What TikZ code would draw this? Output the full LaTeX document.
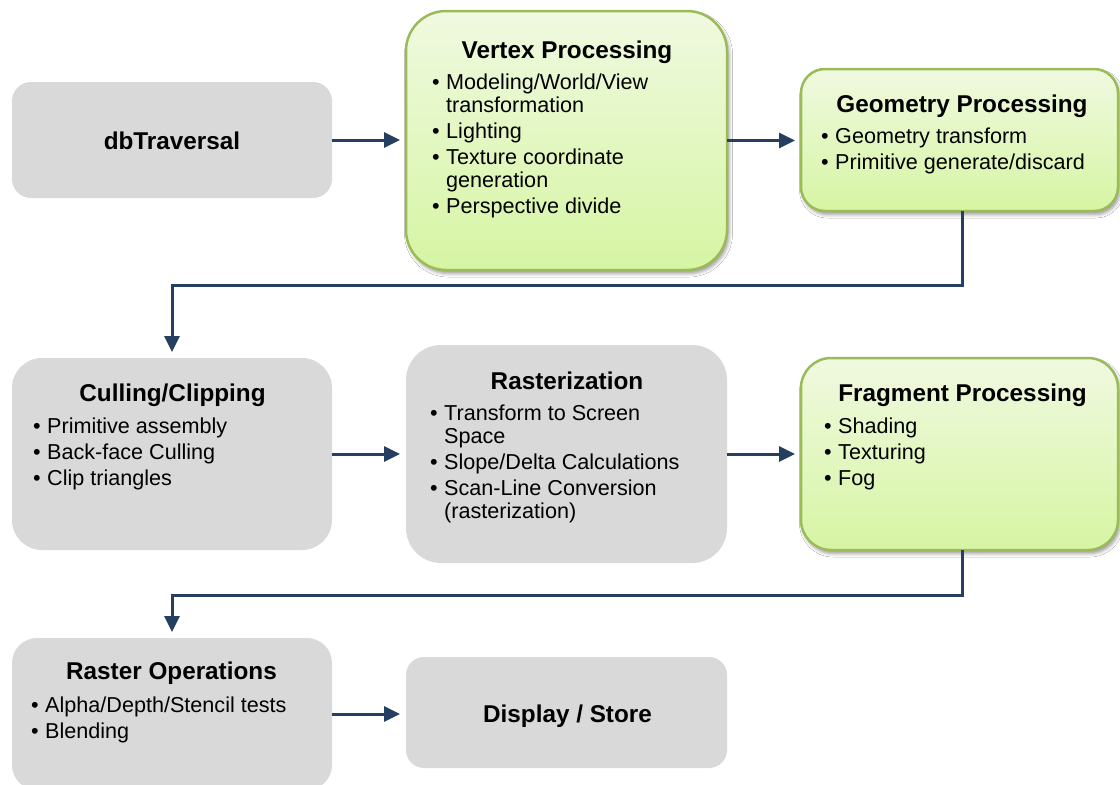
\documentclass[tikz,border=0pt]{standalone}
\usepackage{fontspec}
\setmainfont{Liberation Sans}
\usetikzlibrary{arrows.meta,calc,shadows.blur}

\definecolor{boxgray}{HTML}{D9D9D9}
\definecolor{greentop}{HTML}{F0F9E0}
\definecolor{greenbot}{HTML}{D6F5A3}
\definecolor{greenedge}{HTML}{9BBB59}
\definecolor{flow}{HTML}{243F60}

% bullet and hanging indent for wrapped list lines
\newcommand\itm{\makebox[14pt][l]{•}}
\newcommand\cont{\hspace*{14pt}}

\tikzset{
  stage/.style={rectangle, inner sep=0pt, outer sep=0pt},
  graybox/.style={stage, fill=boxgray},
  greenbox/.style={stage, draw=greenedge, line width=2.5pt,
    top color=greentop, bottom color=greenbot,
    blur shadow={shadow xshift=2pt, shadow yshift=-3.5pt,
                 shadow blur radius=3.5pt, shadow opacity=40}},
  title/.style={anchor=base, inner sep=0pt,
    font=\fontsize{24.3}{28}\selectfont\bfseries},
  items/.style={anchor=north west, inner sep=0pt, align=left,
    font=\fontsize{21.6}{23}\selectfont},
  flowarrow/.style={draw=flow, line width=3pt,
    -{Triangle[length=16pt,width=15pt]}, shorten >=6pt},
}

\begin{document}
\begin{tikzpicture}[x=1pt, y=-1pt]
\clip (0,0) rectangle (1120,785);
\fill[white] (0,0) rectangle (1120,785);

% ---- row 1 ----
\node[graybox, minimum width=320pt, minimum height=116pt, rounded corners=19pt] (db) at (172,140) {};
\node[title] (dbT) at (172,149) {dbTraversal};

\node[greenbox, minimum width=321pt, minimum height=259pt, rounded corners=40pt] (vp) at (566.5,140.5) {};
\node[title] (vpT) at (567,58) {Vertex Processing};
\node[items] (vpL) at (432,73) {\itm\rule{0pt}{16pt}Modeling/World/View\\ \cont transformation\\[3pt] \itm Lighting\\[3pt] \itm Texture coordinate\\ \cont generation\\[3pt] \itm Perspective divide};

\node[greenbox, minimum width=317pt, minimum height=142pt, rounded corners=24pt] (gp) at (959.5,140) {};
\node[title] (gpT) at (962,112) {Geometry Processing};
\node[items] (gpL) at (821,127) {\itm\rule{0pt}{16pt}Geometry transform\\[3pt] \itm Primitive generate/discard};

% ---- row 2 ----
\node[graybox, minimum width=320pt, minimum height=192pt, rounded corners=30pt] (cc) at (172,454) {};
\node[title] (ccT) at (172.5,401) {Culling/Clipping};
\node[items] (ccL) at (33,417) {\itm\rule{0pt}{16pt}Primitive assembly\\[3pt] \itm Back-face Culling\\[3pt] \itm Clip triangles};

\node[graybox, minimum width=321pt, minimum height=218pt, rounded corners=35pt] (rz) at (566.5,454) {};
\node[title] (rzT) at (567,389) {Rasterization};
\node[items] (rzL) at (430,404) {\itm\rule{0pt}{16pt}Transform to Screen\\ \cont Space\\[3pt] \itm Slope/Delta Calculations\\[3pt] \itm Scan-Line Conversion\\ \cont (rasterization)};

\node[greenbox, minimum width=317pt, minimum height=192pt, rounded corners=30pt] (fp) at (959.5,454) {};
\node[title] (fpT) at (962.5,401) {Fragment Processing};
\node[items] (fpL) at (824,417) {\itm\rule{0pt}{16pt}Shading\\[3pt] \itm Texturing\\[3pt] \itm Fog};

% ---- row 3 ----
\node[graybox, minimum width=320pt, minimum height=152pt, rounded corners=25pt] (ro) at (172,714) {};
\node[title] (roT) at (171.5,679) {Raster Operations};
\node[items] (roL) at (31,696) {\itm\rule{0pt}{16pt}Alpha/Depth/Stencil tests\\[3pt] \itm Blending};

\node[graybox, minimum width=321pt, minimum height=111pt, rounded corners=18pt] (ds) at (566.5,712.5) {};
\node[title] (dsT) at (567.5,722) {Display / Store};

% ---- flow ----
\draw[flowarrow] (db.east) -- (db.east -| vp.west);
\draw[flowarrow] (vp.east) -- (vp.east -| gp.west);
\draw[flowarrow] ($(gp.south)+(3,0)$) -- ++(0,74) -| (cc.north);
\draw[flowarrow] (cc.east) -- (cc.east -| rz.west);
\draw[flowarrow] (rz.east) -- (rz.east -| fp.west);
\draw[flowarrow] ($(fp.south)+(3,0)$) -- ++(0,45) -| (ro.north);
\draw[flowarrow] (ro.east) -- (ro.east -| ds.west);
\end{tikzpicture}
\end{document}
